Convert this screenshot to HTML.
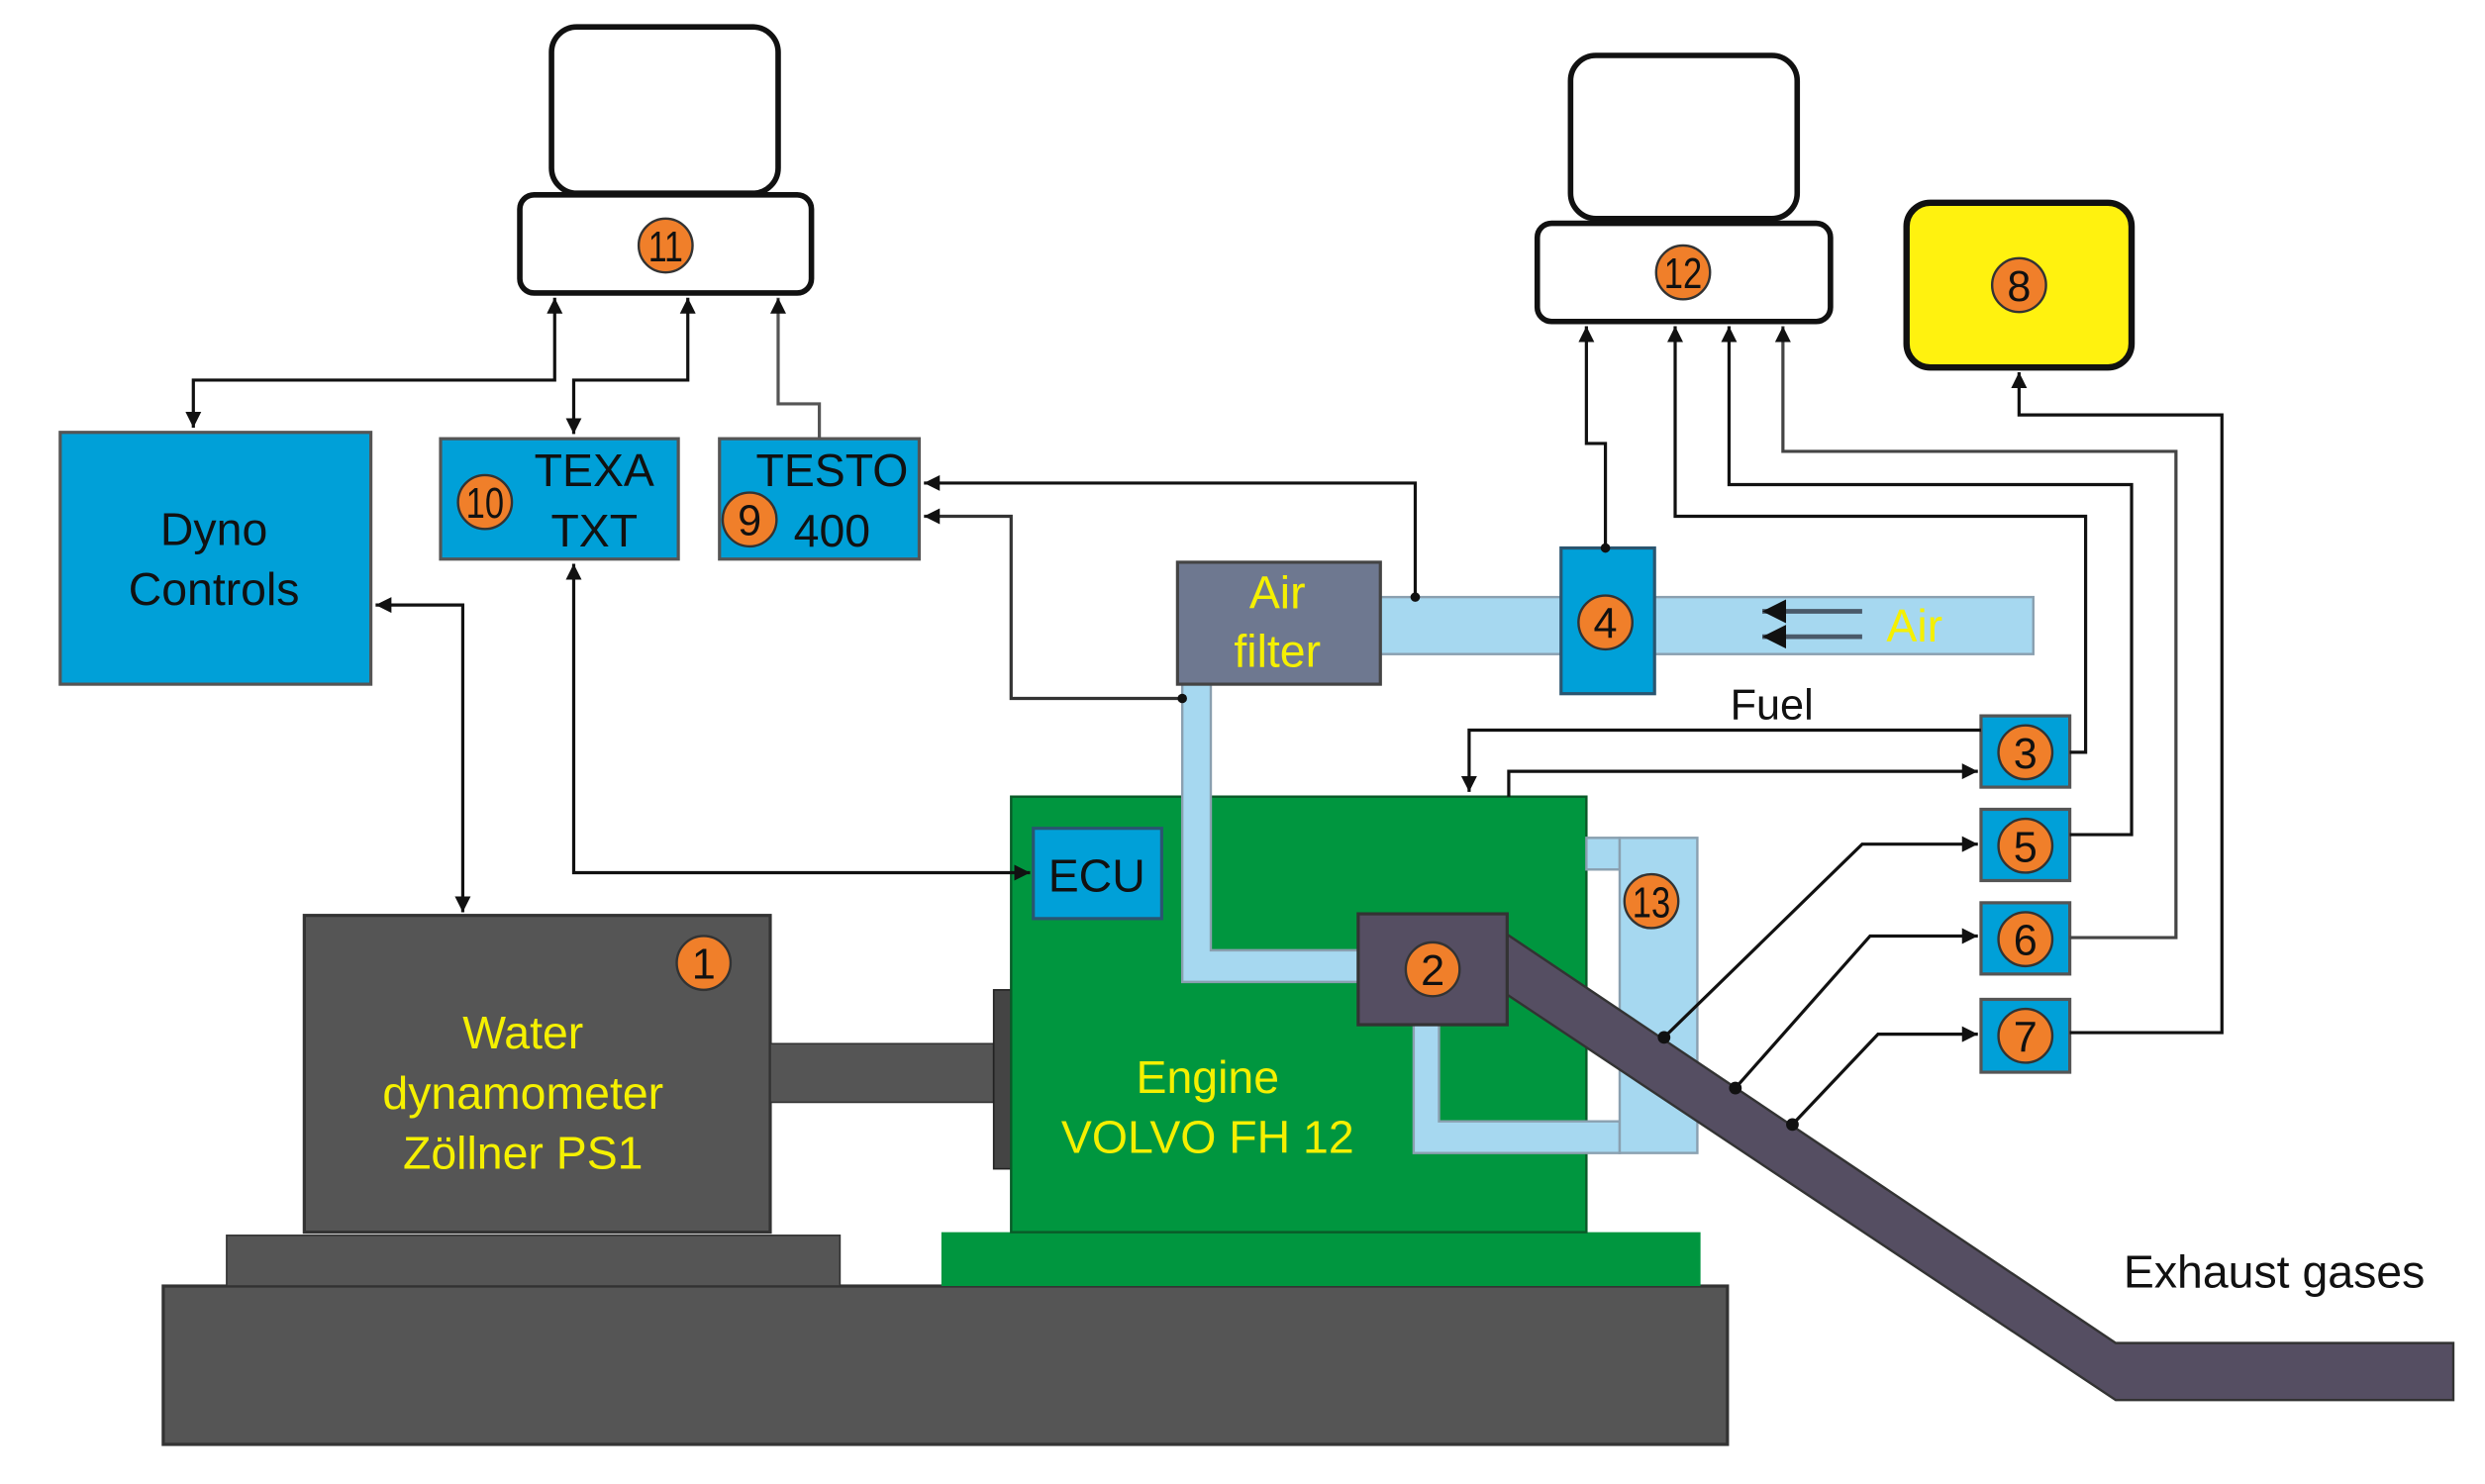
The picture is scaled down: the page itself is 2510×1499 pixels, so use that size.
<!DOCTYPE html>
<html><head><meta charset="utf-8"><style>
html,body{margin:0;padding:0;background:#fff;}
svg{display:block;}
text{font-family:"Liberation Sans",sans-serif;}
</style></head><body>
<svg width="2510" height="1499" viewBox="0 0 1568 937" preserveAspectRatio="none" xmlns="http://www.w3.org/2000/svg">
<defs>
<marker id="a" viewBox="0 0 10 10" refX="10" refY="5" markerWidth="5" markerHeight="5" orient="auto-start-reverse" markerUnits="strokeWidth"><path d="M0,0 L10,5 L0,10 z" fill="#111"/></marker>
</defs>
<rect width="1568" height="937" fill="#fff"/>

<rect x="103" y="812" width="987" height="100" fill="#555" stroke="#333" stroke-width="2"/>
<rect x="143" y="780" width="387" height="32" fill="#555" stroke="#333" stroke-width="1"/>
<rect x="594" y="778" width="479" height="34" fill="#00963f"/>
<rect x="192" y="578" width="294" height="200" fill="#555" stroke="#333" stroke-width="2"/>
<rect x="486" y="659" width="141" height="37" fill="#555" stroke="#333" stroke-width="1"/>
<rect x="627" y="625" width="11" height="113" fill="#444" stroke="#222" stroke-width="1"/>
<text x="330" y="662" font-size="29" fill="#f5f000" text-anchor="middle">Water</text>
<text x="330" y="700" font-size="29" fill="#f5f000" text-anchor="middle">dynamometer</text>
<text x="330" y="738" font-size="29" fill="#f5f000" text-anchor="middle">Zöllner PS1</text>

<rect x="638" y="503" width="363" height="275" fill="#00963f" stroke="#0a5a28" stroke-width="1.5"/>
<rect x="652" y="523" width="81" height="57" fill="#00a0d8" stroke="#2a5570" stroke-width="2"/>
<text x="692" y="563" font-size="29" fill="#111" text-anchor="middle">ECU</text>
<text x="762" y="690" font-size="29" fill="#f5f000" text-anchor="middle">Engine</text>
<text x="762" y="728" font-size="29" fill="#f5f000" text-anchor="middle">VOLVO FH 12</text>

<g fill="#a6d8f0" stroke="#8aa0b0" stroke-width="1.5">
<rect x="871" y="377" width="412" height="36"/>
<path d="M746,432 H764 V600 H857 V620 H746 Z"/>
<path d="M892,647 H908 V708 H1022 V728 H892 Z"/>
<rect x="1001" y="529" width="21" height="20"/>
<rect x="1022" y="529" width="49" height="199"/>
</g>
<rect x="743" y="355" width="128" height="77" fill="#6e7890" stroke="#444" stroke-width="2"/>
<text x="806" y="384" font-size="29" fill="#f5f000" text-anchor="middle">Air</text>
<text x="806" y="421" font-size="29" fill="#f5f000" text-anchor="middle">filter</text>
<rect x="985" y="346" width="59" height="92" fill="#00a0d8" stroke="#2a5570" stroke-width="2"/>
<line x1="1175" y1="386" x2="1112" y2="386" stroke="#4a5a6a" stroke-width="3" marker-end="url(#a)"/>
<line x1="1175" y1="402" x2="1112" y2="402" stroke="#4a5a6a" stroke-width="3" marker-end="url(#a)"/>
<text x="1208" y="405" font-size="29" fill="#f5f000" text-anchor="middle">Air</text>

<polygon points="951,590 1335,848 1548,848 1548,884 1335,884 951,628" fill="#554e62" stroke="#333" stroke-width="1.5"/>
<rect x="857" y="577" width="94" height="70" fill="#554e62" stroke="#333" stroke-width="2"/>
<text x="1435" y="813" font-size="29" fill="#111" text-anchor="middle">Exhaust gases</text>

<g fill="#fff" stroke="#111" stroke-width="3.5">
<rect x="348" y="17" width="143" height="105" rx="16"/>
<rect x="328" y="123" width="184" height="62" rx="9"/>
<rect x="991" y="35" width="143" height="103" rx="16"/>
<rect x="970" y="141" width="185" height="62" rx="9"/>
</g>
<rect x="1203" y="128" width="142" height="104" rx="15" fill="#fff20f" stroke="#111" stroke-width="4"/>

<g fill="#00a0d8" stroke="#555" stroke-width="2">
<rect x="38" y="273" width="196" height="159"/>
<rect x="278" y="277" width="150" height="76"/>
<rect x="454" y="277" width="126" height="76"/>
<rect x="1250" y="452" width="56" height="45"/>
<rect x="1250" y="511" width="56" height="45"/>
<rect x="1250" y="570" width="56" height="45"/>
<rect x="1250" y="631" width="56" height="46"/>
</g>
<text x="135" y="344" font-size="29" fill="#111" text-anchor="middle">Dyno</text>
<text x="135" y="382" font-size="29" fill="#111" text-anchor="middle">Controls</text>
<text x="375" y="307" font-size="29" fill="#111" text-anchor="middle">TEXA</text>
<text x="375" y="345" font-size="29" fill="#111" text-anchor="middle">TXT</text>
<text x="525" y="307" font-size="29" fill="#111" text-anchor="middle">TESTO</text>
<text x="525" y="345" font-size="29" fill="#111" text-anchor="middle">400</text>
<text x="1118" y="454" font-size="27" fill="#111" text-anchor="middle">Fuel</text>

<g fill="none" stroke="#111" stroke-width="2">
<path d="M122,270 V240 H350 V188" marker-start="url(#a)" marker-end="url(#a)"/>
<path d="M362,274 V240 H434 V188" marker-start="url(#a)" marker-end="url(#a)"/>
<path d="M517,277 V255 H491 V188" stroke="#555" marker-end="url(#a)"/>
<path d="M362,356 V551 H650" marker-start="url(#a)" marker-end="url(#a)"/>
<path d="M237,382 H292 V576" marker-start="url(#a)" marker-end="url(#a)"/>
<path d="M893,377 V305 H583" marker-end="url(#a)"/>
<path d="M746,441 H638 V326 H583" stroke="#333" marker-end="url(#a)"/>
<path d="M1013,346 V280 H1001 V206" marker-end="url(#a)"/>
<path d="M1306,475 H1316 V326 H1057 V206" marker-end="url(#a)"/>
<path d="M1306,527 H1345 V306 H1091 V206" marker-end="url(#a)"/>
<path d="M1306,592 H1373 V285 H1125 V206" stroke="#444" marker-end="url(#a)"/>
<path d="M1306,652 H1402 V262 H1274 V235" marker-end="url(#a)"/>
<path d="M1250,461 H927 V500" marker-end="url(#a)"/>
<path d="M952,503 V487 H1248" marker-end="url(#a)"/>
<path d="M1050,655 L1175,533 H1248" marker-end="url(#a)"/>
<path d="M1095,687 L1180,591 H1248" marker-end="url(#a)"/>
<path d="M1131,710 L1185,653 H1248" marker-end="url(#a)"/>
</g>
<g fill="#111"><circle cx="893" cy="377" r="3"/><circle cx="746" cy="441" r="3"/><circle cx="1013" cy="346" r="3"/><circle cx="1050" cy="655" r="4"/><circle cx="1095" cy="687" r="4"/><circle cx="1131" cy="710" r="4"/></g>

<g fill="#f07f2a" stroke="#333" stroke-width="1.5">
<circle cx="420" cy="155" r="17"/><circle cx="1062" cy="172" r="17"/><circle cx="1274" cy="180" r="17"/>
<circle cx="306" cy="317" r="17"/><circle cx="473" cy="328" r="17"/><circle cx="1013" cy="393" r="17"/>
<circle cx="444" cy="608" r="17"/><circle cx="904" cy="612" r="17"/><circle cx="1042" cy="569" r="17"/>
<circle cx="1278" cy="475" r="17"/><circle cx="1278" cy="534" r="17"/><circle cx="1278" cy="593" r="17"/><circle cx="1278" cy="654" r="17"/>
</g>
<g font-size="27" fill="#111" text-anchor="middle">
<text x="420" y="165" textLength="22" lengthAdjust="spacingAndGlyphs">11</text><text x="1062" y="182" textLength="24" lengthAdjust="spacingAndGlyphs">12</text><text x="1274" y="190">8</text>
<text x="306" y="327" textLength="24" lengthAdjust="spacingAndGlyphs">10</text><text x="473" y="338">9</text><text x="1013" y="403">4</text>
<text x="444" y="618">1</text><text x="904" y="622">2</text><text x="1042" y="579" textLength="24" lengthAdjust="spacingAndGlyphs">13</text>
<text x="1278" y="485">3</text><text x="1278" y="544">5</text><text x="1278" y="603">6</text><text x="1278" y="664">7</text>
</g>
</svg>
</body></html>
